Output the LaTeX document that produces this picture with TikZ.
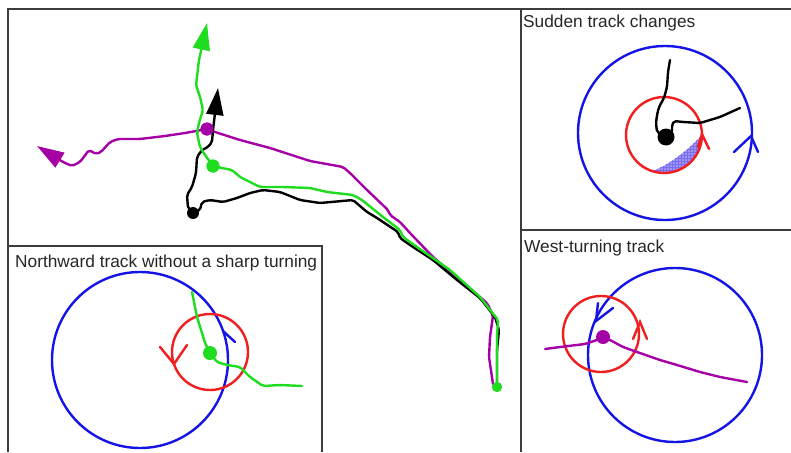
\documentclass[tikz,border=0pt]{standalone}
\usepackage{fontspec}
\setmainfont{Liberation Sans}
\usetikzlibrary{arrows.meta,patterns}
\definecolor{tpurple}{RGB}{165,0,165}
\definecolor{tgreen}{RGB}{30,220,30}
\definecolor{tblue}{RGB}{20,20,230}
\definecolor{tred}{RGB}{240,30,30}
\definecolor{frame}{RGB}{60,60,60}
\definecolor{lav}{RGB}{170,145,240}
\tikzset{
  track/.style={line width=2.4pt, rounded corners=2pt, line cap=round, line join=round},
  ring/.style={line width=2.4pt},
  chev/.style={line width=2.4pt, line cap=round},
  dot/.style={circle, inner sep=0pt, draw=none},
  title/.style={anchor=base west, inner sep=0pt, text=black!85, font=\fontsize{17.3}{20}\selectfont},
  bigtip/.style={-{Triangle[length=27pt,width=17pt]}},
  frameline/.style={draw=frame, line width=1.6pt},
  insetline/.style={draw=frame, line width=1.1pt}
}
\begin{document}
\begin{tikzpicture}[x=1pt,y=-1pt]
\useasboundingbox (0,0) rectangle (791,452);
% frames
\draw[frameline] (8,452) -- (8,9) -- (791,9);
\draw[frameline] (521,9) -- (521,452);
\draw[frameline] (521,230) -- (791,230);
\draw[insetline] (8,246) -- (322,246) -- (322,452);

% ---------- main panel ----------
\coordinate (pTip) at (37,146);
\coordinate (pEnd) at (493,384);
\coordinate (kTip) at (218,88);
\coordinate (gTip) at (207,23);
\node[dot, fill=tpurple, minimum size=13pt] (pDot) at (207,129) {};
\node[dot, fill=black, minimum size=12pt] (kDot) at (193,213) {};
\node[dot, fill=tgreen, minimum size=13pt] (gDot) at (213,166) {};
\node[dot, fill=tgreen, minimum size=10pt] (gEnd) at (497,387) {};

% purple track
\draw[track, tpurple, bigtip] (pEnd) -- (489,357) -- (490,337) -- (492,323) -- (493,315) -- (487,303) -- (460,280) -- (433,257) -- (410,233) -- (400,222) -- (390,215) -- (388,210) -- (367,190) -- (350,173) -- (343,167) -- (310,161) -- (270,148) -- (240,140) -- (215,132) -- (pDot.center) -- (185,133) -- (165,136) -- (140,139) -- (118,139) -- (110,142) -- (101,152) -- (96,154) -- (89,150) -- (80,162) -- (72,166) -- (63,162) -- (pTip);

% black track
\draw[track, black] (kDot.center) -- (200,210) -- (202,202) -- (210,200) -- (223,202) -- (237,198) -- (250,193) -- (263,190) -- (280,192) -- (300,200) -- (320,203) -- (353,200) -- (367,212) -- (377,218) -- (398,232) -- (400,238) -- (410,245) -- (433,260) -- (457,280) -- (480,298) -- (495,317) -- (499,330) -- (497,350) -- (497,373) -- (497,383);
\draw[track, black, bigtip] (kDot.center) -- (188,208) -- (187,195) -- (192,187) -- (196,173) -- (197,157) -- (202,150) -- (208,147) -- (212,142) -- (213,130) -- (kTip);

% green track
\draw[track, tgreen, bigtip] (gEnd.center) -- (497,363) -- (497,337) -- (498,320) -- (480,297) -- (450,270) -- (417,247) -- (403,237) -- (400,230) -- (383,217) -- (362,200) -- (353,195) -- (327,192) -- (310,188) -- (283,187) -- (260,187) -- (240,177) -- (232,170) -- (222,168) -- (gDot.center) -- (205,155) -- (200,147) -- (197,133) -- (199,123) -- (203,110) -- (200,97) -- (196,85) -- (199,60) -- (gTip);
\node[dot, fill=tpurple, minimum size=13pt] at (pDot) {};
\node[dot, fill=tgreen, minimum size=13pt] at (gDot) {};
\node[dot, fill=tgreen, minimum size=10pt] at (gEnd) {};

% ---------- Sudden track changes ----------
\node[title] (tS) at (523,28) {Sudden track changes};
\coordinate (sBc) at (665,133);
\coordinate (sRc) at (664,135);
\draw[ring, tblue] (sBc) circle[radius=87];
\fill[preaction={fill=lav}, pattern=grid, pattern color=tblue!60]
  (sRc) ++(108:38) arc[start angle=108, end angle=0, radius=38]
  .. controls (692,146) and (672,164) .. cycle;
\draw[ring, tred] (sRc) circle[radius=38];
\node[dot, fill=black, minimum size=17pt] (sDot) at (666,137) {};
\draw[track, black] (sDot.center) -- (657,132) -- (656,123) -- (657,115) -- (659,107) -- (664,98) -- (667,87) -- (668,72) -- (670,60);
\draw[track, black] (sDot.center) -- (672,133) -- (672,125) -- (674,121) -- (683,122) -- (700,123) -- (720,117) -- (740,108);
\draw[chev, tred] (698,147) -- (702,134) -- (709,149);
\draw[chev, tblue] (734,152) -- (751,136) -- (758,152);

% ---------- West-turning track ----------
\node[title] (tW) at (524,252) {West-turning track};
\coordinate (wBc) at (675,355);
\coordinate (wRc) at (601,334);
\draw[ring, tblue] (wBc) circle[radius=87];
\draw[ring, tred] (wRc) circle[radius=38];
\node[dot, fill=tpurple, minimum size=14pt] (wDot) at (603,337) {};
\draw[track, tpurple] (wDot.center) -- (597,340) -- (585,344) -- (560,347) -- (545,349);
\draw[track, tpurple] (wDot.center) -- (610,340) -- (623,347) -- (637,352) -- (660,360) -- (677,365) -- (700,372) -- (720,377) -- (747,382);
\draw[chev, tblue] (598,303) -- (596,321) -- (613,308);
\draw[chev, tred] (633,339) -- (640,322) -- (647,339);

% ---------- Northward track ----------
\node[title] (tN) at (15,267) {Northward track without a sharp turning};
\coordinate (nBc) at (140,360);
\coordinate (nRc) at (210,352);
\draw[ring, tblue] (nBc) circle[radius=88];
\draw[ring, tred] (nRc) circle[radius=38];
\node[dot, fill=tgreen, minimum size=14pt] (nDot) at (210,353) {};
\draw[track, tgreen] (nDot.center) -- (205,343) -- (202,333) -- (197,317) -- (192,292);
\draw[track, tgreen] (nDot.center) -- (217,362) -- (227,365) -- (240,367) -- (250,377) -- (263,386) -- (280,385) -- (302,386);
\draw[chev, tblue] (223,331) -- (235,342);
\draw[chev, tred] (160,347) -- (174,364) -- (187,345);
\end{tikzpicture}
\end{document}
